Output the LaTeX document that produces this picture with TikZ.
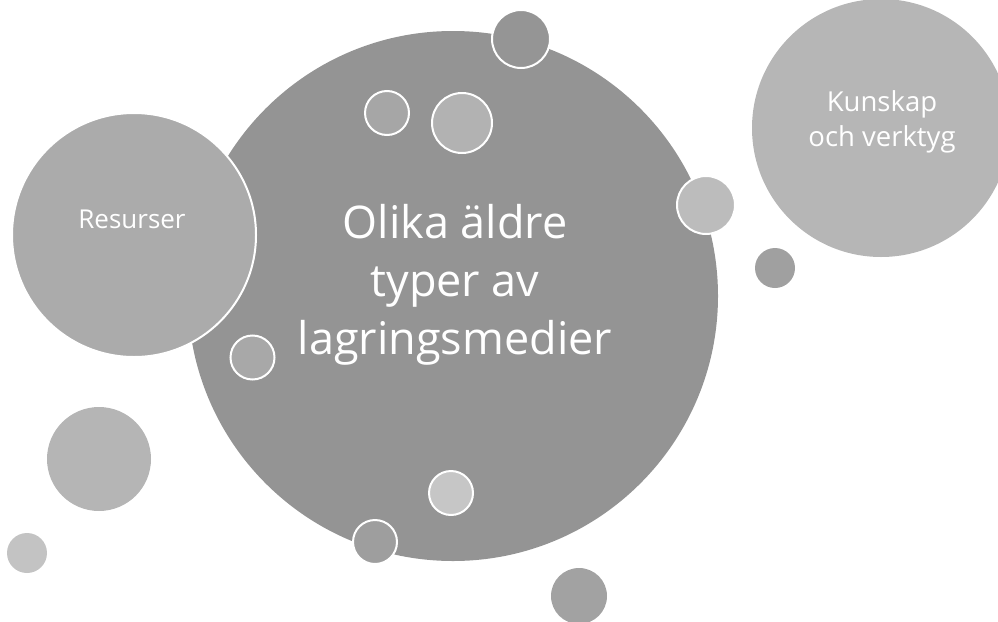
\documentclass[tikz,border=0pt]{standalone}
\usepackage{fontspec}
\setmainfont{Open Sans}
\definecolor{cmain}{HTML}{949494}
\definecolor{ctop}{HTML}{959595}
\definecolor{ca}{HTML}{A6A6A6}
\definecolor{cb}{HTML}{B2B2B2}
\definecolor{cres}{HTML}{ABABAB}
\definecolor{ckun}{HTML}{B6B6B6}
\definecolor{cr1}{HTML}{BCBCBC}
\definecolor{cr2}{HTML}{A0A0A0}
\definecolor{cl1}{HTML}{A8A8A8}
\definecolor{cl2}{HTML}{B5B5B5}
\definecolor{cl3}{HTML}{C3C3C3}
\definecolor{cb1}{HTML}{C6C6C6}
\definecolor{cb2}{HTML}{9E9E9E}
\definecolor{cb3}{HTML}{A2A2A2}
\tikzset{
  bub/.style={circle, inner sep=0pt, draw=white, line width=2pt, minimum size=#1},
  lbl/.style={text=white, align=center, inner sep=0pt},
}
\begin{document}
\begin{tikzpicture}[x=1pt,y=-1pt]
\useasboundingbox (0,0) rectangle (998,621);
\clip (0,0) rectangle (998,621);
\node[bub=530pt, fill=cmain, draw=none] (main) at (453,296) {};
\node[bub=58pt, fill=ctop] (top) at (521,39) {};
\node[bub=44pt, fill=ca] (a) at (387,113) {};
\node[bub=60pt, fill=cb] (b) at (462,123) {};
\node[bub=244pt, fill=cres] (res) at (134,235) {};
\node[bub=258pt, fill=ckun, draw=none] (kun) at (881,128) {};
\node[bub=58pt, fill=cr1] (r1) at (706,205) {};
\node[bub=40pt, fill=cr2, draw=none] (r2) at (775,268) {};
\node[bub=44pt, fill=cl1] (l1) at (252.5,357.5) {};
\node[bub=104pt, fill=cl2, draw=none] (l2) at (99,459) {};
\node[bub=40pt, fill=cl3, draw=none] (l3) at (27,553) {};
\node[bub=44pt, fill=cb1] (d1) at (451,493) {};
\node[bub=44pt, fill=cb2] (d2) at (375,542) {};
\node[bub=56pt, fill=cb3, draw=none] (d3) at (579,596) {};
\node[lbl, font=\fontsize{45}{58}\selectfont] (maintext) at (455,285) {Olika äldre\\typer av\\lagringsmedier};
\node[lbl, font=\fontsize{26}{30}\selectfont, anchor=base] (restext) at (132,228) {Resurser};
\node[lbl, font=\fontsize{27.5}{35}\selectfont] (kuntext) at (882,122) {Kunskap\\och verktyg};
\end{tikzpicture}
\end{document}
